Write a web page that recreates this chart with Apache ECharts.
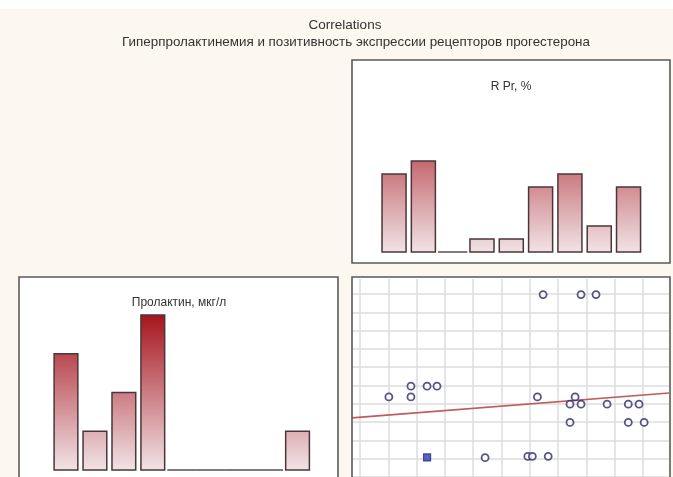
<!DOCTYPE html>
<html>
<head>
<meta charset="utf-8">
<script src="https://cdn.jsdelivr.net/npm/echarts@6/dist/echarts.min.js"></script>
<style>
  html, body { margin: 0; padding: 0; background: #fcf8ef; }
  #chart { width: 673px; height: 477px; }
</style>
</head>
<body>
<div id="chart"></div>
<script>
// ---- data ----
// R Pr, % : histogram of 9 bins
const rprBins = ['0-11', '11-22', '22-33', '33-44', '44-55', '55-66', '66-77', '77-88', '88-100'];
const rprCounts = [6, 7, 0, 1, 1, 5, 6, 2, 5];

// Пролактин, мкг/л : histogram of 9 bins
const prlBins = ['1', '2', '3', '4', '5', '6', '7', '8', '9'];
const prlCounts = [3, 1, 2, 4, 0, 0, 0, 0, 1];

// scatter: [R Pr, %, Пролактин]
const scatterPoints = [
  [64.7, 99.5], [78.1, 99.5], [83.4, 99.5],
  [18.0, 49.0], [23.7, 49.0], [27.2, 49.0],
  [10.2, 43.1], [18.0, 43.1], [62.7, 43.1], [76.0, 43.1],
  [74.2, 39.1], [78.1, 39.1], [87.3, 39.1], [94.8, 39.1], [98.6, 39.1],
  [74.2, 29.0], [94.8, 29.0], [100.4, 29.0],
  [44.2, 9.6], [59.3, 10.3], [60.9, 10.3], [66.5, 10.3]
];
// coinciding observations drawn as a filled marker
const stackedPoints = [[23.7, 9.7]];
// fitted linear trend, end points
const fitLine = [[-2.83, 31.5], [109.2, 45.2]];

// ---- layout ----
const FONT = 'Liberation Sans, Arial, sans-serif';
const panels = {
  top:   { x: 352, y: 60,  w: 318, h: 203 },
  left:  { x: 19,  y: 277, w: 319, h: 206 },
  cross: { x: 352, y: 277, w: 318, h: 206 }
};
// scatter reference lines: value 0..100 in steps of 10
const vLines = { left: 360, right: 643 };
const hLines = { top: 294, bottom: 479 };
const pxPerX = (vLines.right - vLines.left) / 100;
const pxPerY = (hLines.bottom - hLines.top) / 100;
const scat = { left: 352, top: 279, width: 317, height: 202 };
const xMin = (scat.left - vLines.left) / pxPerX;
const xMax = (scat.left + scat.width - vLines.left) / pxPerX;
const yMax = (hLines.bottom - scat.top) / pxPerY;
const yMin = (hLines.bottom - (scat.top + scat.height)) / pxPerY;

const GRAD_SPAN = 155;
function histRenderer(params, api) {
  const idx = api.value(0);
  const v = api.value(1);
  const base = api.coord([idx, 0]);
  const slot = api.size([1, 0])[0];
  if (v === 0) {
    return {
      type: 'line',
      shape: { x1: base[0] - slot / 2, y1: base[1], x2: base[0] + slot / 2, y2: base[1] },
      style: { stroke: '#5e4a4e', lineWidth: 1.5 }
    };
  }
  const top = api.coord([idx, v]);
  const w = slot * 0.82;
  return {
    type: 'rect',
    shape: { x: base[0] - w / 2, y: top[1], width: w, height: base[1] - top[1] },
    style: {
      fill: new echarts.graphic.LinearGradient(0, base[1], 0, base[1] - GRAD_SPAN, [
        { offset: 0, color: '#f1e3e6' },
        { offset: 1, color: '#a6151e' }
      ], true),
      stroke: '#4c3639',
      lineWidth: 1.5
    }
  };
}

function panelGraphics(p) {
  return [
    { type: 'rect', z: -10, shape: { x: p.x, y: p.y, width: p.w, height: p.h },
      style: { fill: '#ffffff' } },
    { type: 'rect', z: 100, shape: { x: p.x, y: p.y, width: p.w, height: p.h },
      style: { fill: 'none', stroke: '#5a5a5a', lineWidth: 1.6 } }
  ];
}

function text(str, x, y, size) {
  return { type: 'text', z: 100, x: x, y: y,
    style: { text: str, font: size + 'px ' + FONT, fill: '#333', textAlign: 'center', textVerticalAlign: 'middle' } };
}

const hidden = { show: false };
const lineOnly = (lineStyle) => ({
  axisLine: hidden, axisTick: hidden, axisLabel: hidden,
  splitLine: { show: true, lineStyle: lineStyle }
});
const gridLineStyle = { color: '#dcdcdc', width: 1.5 };

const chart = echarts.init(document.getElementById('chart'));
chart.setOption({
  animation: false,
  backgroundColor: '#fcf8ef',
  graphic: [
    { type: 'rect', z: -10, shape: { x: 0, y: 0, width: 673, height: 9 }, style: { fill: '#ffffff' } },
    ...panelGraphics(panels.top),
    ...panelGraphics(panels.left),
    ...panelGraphics(panels.cross),
    text('Correlations', 345, 25, 13.5),
    text('Гиперпролактинемия и позитивность экспрессии рецепторов прогестерона', 356, 42, 13.4),
    text('R Pr, %', 511, 87, 12),
    text('Пролактин, мкг/л', 179, 303, 12)
  ],
  grid: [
    { left: 379.4, top: 122, width: 263.8, height: 130 },
    { left: 51.5, top: 315, width: 260.5, height: 155 },
    { left: scat.left, top: scat.top, width: scat.width, height: scat.height },
    { left: vLines.left, top: scat.top, width: vLines.right - vLines.left, height: scat.height },
    { left: scat.left, top: hLines.top, width: scat.width, height: hLines.bottom - hLines.top }
  ],
  xAxis: [
    { gridIndex: 0, type: 'category', data: rprBins, show: false },
    { gridIndex: 1, type: 'category', data: prlBins, show: false },
    { gridIndex: 2, type: 'value', min: xMin, max: xMax, show: false },
    Object.assign({ gridIndex: 3, type: 'value', min: 0, max: 100, interval: 10 }, lineOnly(gridLineStyle)),
    { gridIndex: 4, type: 'value', min: 0, max: 1, show: false }
  ],
  yAxis: [
    { gridIndex: 0, type: 'value', min: 0, max: 10, show: false },
    { gridIndex: 1, type: 'value', min: 0, max: 4, show: false },
    { gridIndex: 2, type: 'value', min: yMin, max: yMax, show: false },
    { gridIndex: 3, type: 'value', min: 0, max: 1, show: false },
    Object.assign({ gridIndex: 4, type: 'value', min: 0, max: 100, interval: 10 }, lineOnly(gridLineStyle))
  ],
  series: [
    {
      type: 'custom', xAxisIndex: 0, yAxisIndex: 0,
      data: rprCounts.map((c, i) => [i, c]),
      renderItem: histRenderer
    },
    {
      type: 'custom', xAxisIndex: 1, yAxisIndex: 1,
      data: prlCounts.map((c, i) => [i, c]),
      renderItem: histRenderer
    },
    {
      type: 'line', xAxisIndex: 2, yAxisIndex: 2,
      data: fitLine, symbol: 'none', z: 3,
      lineStyle: { color: '#bd5c5a', width: 1.6 }
    },
    {
      type: 'scatter', xAxisIndex: 2, yAxisIndex: 2,
      data: scatterPoints, symbol: 'circle', symbolSize: 7, z: 4,
      itemStyle: { color: '#ffffff', borderColor: '#2a2a6e', borderWidth: 1.8 }
    },
    {
      type: 'scatter', xAxisIndex: 2, yAxisIndex: 2,
      data: stackedPoints, symbol: 'rect', symbolSize: 7, z: 5,
      itemStyle: { color: '#2f3fb8', borderColor: '#1f2a80', borderWidth: 1.2 }
    }
  ]
});
</script>
</body>
</html>
